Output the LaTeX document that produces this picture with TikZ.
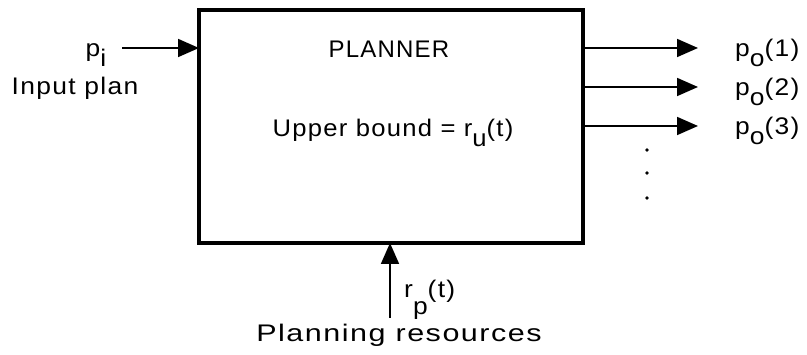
\documentclass[tikz,border=0pt]{standalone}
\usepackage{fontspec}
\setmainfont[LetterSpace=5]{Liberation Sans}
\usetikzlibrary{arrows.meta}
\newcommand\lowsub[2][10pt]{\raisebox{-#1}{#2}}
\begin{document}
\begin{tikzpicture}[x=1pt,y=1pt,
  lbl/.style={font=\fontsize{24}{27}\selectfont, inner sep=0pt, xscale=1.1},
  flow/.style={line width=1.8pt, -{Triangle[length=21pt,width=18pt]}}]
\useasboundingbox (0,0) rectangle (807,355);
\node[draw, line width=3.5pt, minimum width=384pt, minimum height=233pt, inner sep=0pt, outer sep=0pt] (planner) at (391,228.5) {};
\node[lbl, anchor=base, xscale=1/1.1] (title) at (389,297) {PLANNER};
\node[lbl, anchor=base, xscale=0.97] (bound) at (393,218) {Upper bound = r\lowsub{u}(t)};
\coordinate (inp) at (122,307);
\node[lbl, anchor=base] (pin) at (96,298) {p\lowsub{i}};
\node[lbl, anchor=base] (inlabel) at (75,260) {Input plan};
\draw[flow] (inp) -- (planner.west |- inp);
\foreach \k/\yy in {1/307, 2/268, 3/229} {
  \coordinate (out\k) at (698,\yy);
  \draw[flow] (planner.east |- out\k) -- (out\k);
  \node[lbl, anchor=base west] (po\k) at (735,\yy-9) {p\lowsub{o}(\k)};
}
\foreach \yy in {205,182,157} \fill (647,\yy) circle (1.8pt);
\coordinate (res) at (390,37);
\draw[flow] (res) -- (planner.south -| res);
\node[lbl, anchor=base west] (rp) at (404,57) {r\lowsub[17pt]{p}(t)};
\node[lbl, anchor=base, xscale=1.155] (reslabel) at (399,13) {Planning resources};
\end{tikzpicture}
\end{document}
